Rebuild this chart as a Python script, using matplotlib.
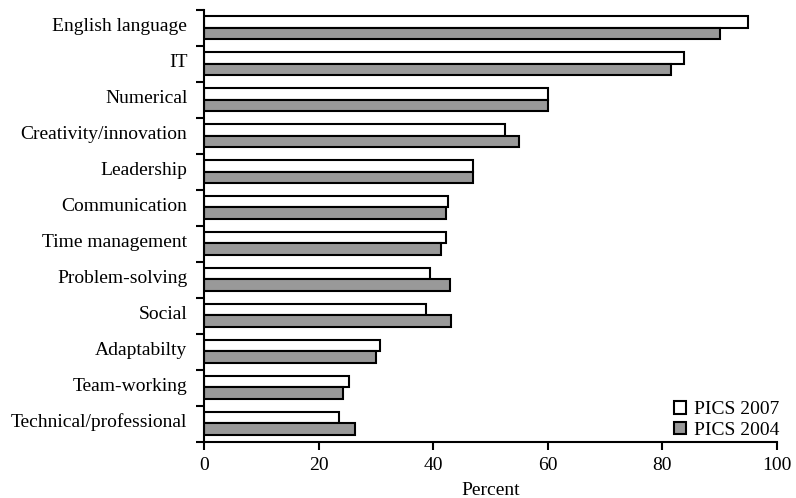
import numpy as np
import matplotlib.pyplot as plt

plt.rcParams['font.family'] = ['Liberation Serif', 'DejaVu Serif']

skills = ["English language", "IT", "Numerical", "Creativity/innovation",
          "Leadership", "Communication", "Time management", "Problem-solving",
          "Social", "Adaptabilty", "Team-working", "Technical/professional"]
pics_2007 = [95.0, 83.7, 60.0, 52.5, 46.9, 42.5, 42.2, 39.5, 38.7, 30.8, 25.3, 23.6]
pics_2004 = [90.1, 81.5, 60.0, 54.9, 47.0, 42.3, 41.3, 42.9, 43.1, 30.0, 24.3, 26.4]

fig = plt.figure(figsize=(7.96, 4.98), dpi=100)
ax = fig.add_axes([0.2563, 0.113, 0.7198, 0.867])

y = np.arange(len(skills))
h = 0.31
ax.barh(y - 0.165, pics_2007, height=h, color="white", edgecolor="black",
        linewidth=1.5, label="PICS 2007")
ax.barh(y + 0.145, pics_2004, height=h, color="#999999", edgecolor="black",
        linewidth=1.5, label="PICS 2004")

ax.set_ylim(len(skills) - 0.5, -0.5)
ax.set_xlim(0, 100)
ax.set_xticks(np.arange(0, 101, 20))

# category separators as major ticks, labels on minor ticks
ax.set_yticks(np.arange(-0.5, len(skills), 1.0))
ax.set_yticklabels([])
ax.set_yticks(y - 0.1, minor=True)
ax.set_yticklabels(skills, minor=True)
ax.tick_params(axis="y", which="major", length=6, width=1.5, direction="out")
ax.tick_params(axis="y", which="minor", length=0, pad=12, labelsize=14)
ax.tick_params(axis="x", length=6, width=1.5, direction="out", labelsize=14, pad=5)

for s in ["top", "right"]:
    ax.spines[s].set_visible(False)
for s in ["left", "bottom"]:
    ax.spines[s].set_linewidth(1.5)

ax.set_xlabel("Percent", fontsize=14, labelpad=6)
ax.legend(loc="lower right", frameon=False, fontsize=14, handlelength=0.6,
          handleheight=0.6, handletextpad=0.4, labelspacing=0.2,
          borderaxespad=0.0, bbox_to_anchor=(1.017, -0.012))

fig.savefig("out.png", dpi=100)
